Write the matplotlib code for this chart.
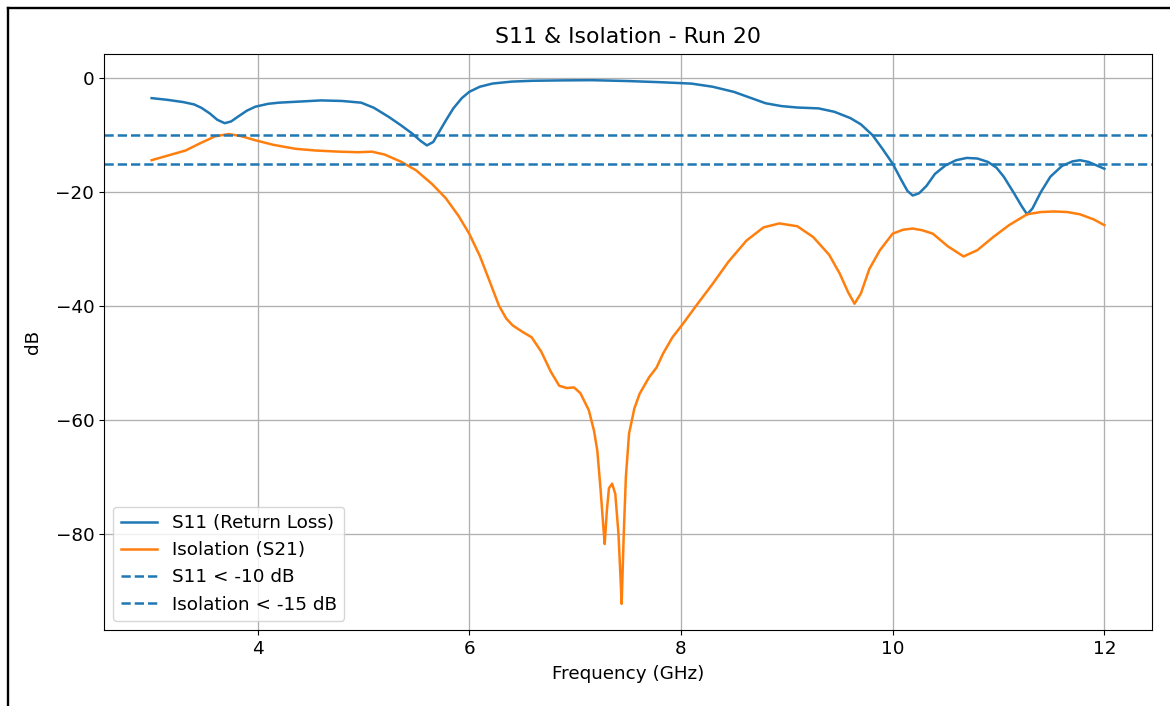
"""S11 & Isolation plot for run 20."""

import matplotlib
matplotlib.use("Agg")
import matplotlib.pyplot as plt
from matplotlib.lines import Line2D

# S11 (return loss) samples
s11_freq = [3.0, 3.15, 3.3, 3.4, 3.47, 3.55, 3.62, 3.69, 3.75, 3.82, 3.9, 3.98, 4.1, 4.2, 4.4,
            4.6, 4.8, 4.98, 5.1, 5.24, 5.35, 5.46, 5.54, 5.6, 5.66, 5.72, 5.78, 5.85, 5.93,
            6.0, 6.1, 6.22, 6.4, 6.6, 6.9, 7.16, 7.5, 7.8, 8.1, 8.3, 8.5, 8.65, 8.8, 8.95,
            9.1, 9.3, 9.45, 9.6, 9.7, 9.81, 9.9, 10.0, 10.08, 10.14, 10.19, 10.25, 10.32,
            10.4, 10.5, 10.6, 10.7, 10.8, 10.9, 10.98, 11.05, 11.15, 11.22, 11.27, 11.32,
            11.4, 11.49, 11.6, 11.7, 11.77, 11.85, 12.0]
s11_db = [-3.5, -3.8, -4.2, -4.6, -5.2, -6.2, -7.3, -7.9, -7.6, -6.7, -5.7, -5.0, -4.5, -4.3,
          -4.1, -3.9, -4.0, -4.3, -5.2, -6.8, -8.2, -9.7, -11.0, -11.8, -11.2, -9.3, -7.4,
          -5.3, -3.5, -2.4, -1.5, -0.94, -0.6, -0.45, -0.38, -0.35, -0.5, -0.7, -0.95, -1.5,
          -2.4, -3.4, -4.4, -4.9, -5.15, -5.3, -5.9, -7.0, -8.1, -10.0, -12.3, -15.0, -17.8,
          -19.8, -20.6, -20.2, -18.9, -16.8, -15.3, -14.4, -14.0, -14.1, -14.7, -15.7, -17.3,
          -20.3, -22.5, -23.9, -22.9, -20.0, -17.3, -15.4, -14.6, -14.4, -14.7, -15.9]

# Isolation (S21) samples
iso_freq = [3.0, 3.15, 3.32, 3.45, 3.6, 3.73, 3.85, 3.98, 4.15, 4.36, 4.55, 4.77, 4.95, 5.08,
            5.2, 5.36, 5.5, 5.65, 5.78, 5.9, 6.0, 6.1, 6.2, 6.28, 6.35, 6.41, 6.5, 6.59, 6.68,
            6.77, 6.85, 6.92, 6.99, 7.05, 7.13, 7.18, 7.21, 7.24, 7.27, 7.28, 7.3, 7.32, 7.35,
            7.38, 7.41, 7.43, 7.44, 7.46, 7.48, 7.51, 7.56, 7.61, 7.7, 7.77, 7.83, 7.92, 8.02,
            8.15, 8.3, 8.45, 8.62, 8.78, 8.93, 9.1, 9.25, 9.4, 9.5, 9.58, 9.64, 9.7, 9.78,
            9.88, 10.0, 10.1, 10.19, 10.28, 10.38, 10.52, 10.67, 10.8, 10.95, 11.1, 11.27,
            11.4, 11.52, 11.65, 11.77, 11.9, 12.0]
iso_db = [-14.4, -13.6, -12.7, -11.5, -10.2, -9.8, -10.2, -10.9, -11.7, -12.4, -12.7, -12.9,
          -13.0, -12.9, -13.4, -14.7, -16.2, -18.6, -21.1, -24.2, -27.3, -31.2, -36.0, -39.9,
          -42.2, -43.4, -44.5, -45.5, -48.0, -51.5, -54.0, -54.4, -54.3, -55.3, -58.3, -62.0,
          -65.4, -72.0, -79.5, -81.8, -76.0, -72.0, -71.2, -73.0, -80.0, -88.0, -92.3, -80.0,
          -70.0, -62.4, -58.0, -55.4, -52.5, -50.8, -48.4, -45.5, -43.1, -39.8, -36.1, -32.2,
          -28.5, -26.2, -25.5, -26.0, -27.9, -31.0, -34.3, -37.6, -39.6, -37.8, -33.5, -30.2,
          -27.3, -26.6, -26.4, -26.7, -27.3, -29.5, -31.3, -30.2, -27.9, -25.8, -23.9, -23.5,
          -23.4, -23.5, -23.9, -24.8, -25.8]

S11_LIMIT = -10
ISO_LIMIT = -15

fig = plt.figure(figsize=(11.7, 7.06), dpi=100)
ax = fig.add_axes([0.0889, 0.1076, 0.8957, 0.8159])

ax.plot(s11_freq, s11_db, color="#1f77b4", linewidth=1.8, label="S11 (Return Loss)")
ax.plot(iso_freq, iso_db, color="#ff7f0e", linewidth=1.8, label="Isolation (S21)")
ax.axhline(S11_LIMIT, color="#1f77b4", linestyle="--", linewidth=1.8, label="S11 < -10 dB")
ax.axhline(ISO_LIMIT, color="#1f77b4", linestyle="--", linewidth=1.8, label="Isolation < -15 dB")

ax.set_title("S11 & Isolation - Run 20", fontsize=15.8, pad=8)
ax.set_xlabel("Frequency (GHz)", fontsize=13.2, labelpad=5)
ax.set_ylabel("dB", fontsize=13.2, labelpad=10)
ax.tick_params(labelsize=13.2)
ax.grid(True, color="#b0b0b0", linewidth=0.95)
ax.set_yticks([0, -20, -40, -60, -80])
ax.set_xticks([4, 6, 8, 10, 12])
ax.legend(loc="lower left", fontsize=13.2)

# screenshot frame on top and left
fig.add_artist(Line2D([7.5 / 1170, 1.0], [1 - 7.5 / 706] * 2, color="black", linewidth=1.7,
                      transform=fig.transFigure))
fig.add_artist(Line2D([7.5 / 1170] * 2, [0.0, 1 - 7.5 / 706], color="black", linewidth=1.7,
                      transform=fig.transFigure))

fig.savefig("out.png", dpi=100)
